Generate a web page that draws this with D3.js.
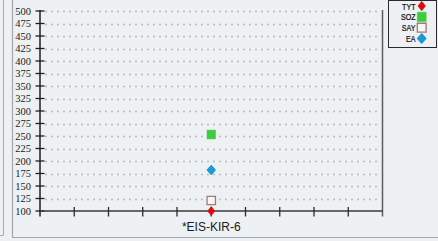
<!DOCTYPE html>
<html><head><meta charset="utf-8">
<script src="https://cdn.jsdelivr.net/npm/d3@7/dist/d3.min.js"></script>
<style>
html,body{margin:0;padding:0;background:#edf1f4;}
svg{display:block;}
</style></head>
<body>
<svg id="c" width="438" height="241"></svg>
<script>
const categories = ["*EIS-KIR-6"];
const seriesNames = ["TYT", "SOZ", "SAY", "EA"];
const TYT = [100];
const SOZ = [253];
const SAY = [121];
const EA = [182];
const yTicks = [100,125,150,175,200,225,250,275,300,325,350,375,400,425,450,475,500];
const xTickSlots = [0,1,2,3,4,5,6,7,8,9,10];

const seriesValues = {TYT, SOZ, SAY, EA};
const styles = {
  TYT: {shape: "diamond", fill: "#dd0a0a", stroke: "#dd0a0a", hw: 3.6, hh: 4.6},
  SOZ: {shape: "square", fill: "#3ccc3c", stroke: "#3ccc3c", hw: 4.2, hh: 4.4},
  SAY: {shape: "square", fill: "#f7f4f4", stroke: "#a07a7a", hw: 4.2, hh: 4.2},
  EA:  {shape: "diamond", fill: "#1c9ad6", stroke: "#1c9ad6", hw: 3.8, hh: 4.2, round: true}
};

const svg = d3.select("#c");
const bg = "#edf1f4";
svg.append("rect").attr("width",438).attr("height",241).attr("fill",bg);

// panels
svg.append("path").attr("d","M3.5,0 V235.5 H0").attr("fill","none").attr("stroke","#a9adb0").attr("stroke-width",1);
svg.append("path").attr("d","M12.5,0 V237.5 H438").attr("fill","none").attr("stroke","#a3a7aa").attr("stroke-width",1.2);

const x0 = 40, x1 = 382.5, yTop = 11, yBot = 211;
const y = d3.scaleLinear().domain([100,500]).range([yBot, yTop]);
const xs = d3.scaleLinear().domain([0,10]).range([x0, x1]);
const xc = d3.scalePoint().domain(categories).range([x0, x1]).padding(0.5);

// grid
svg.append("g").selectAll("line").data(yTicks.filter(d=>d>100)).join("line")
  .attr("x1", x0+5).attr("x2", x1-3)
  .attr("y1", d=>Math.round(y(d))+0.5).attr("y2", d=>Math.round(y(d))+0.5)
  .attr("stroke","#b9bcbf").attr("stroke-width",1.3).attr("stroke-dasharray","2,4");

// right border
svg.append("line").attr("x1",x1).attr("x2",x1).attr("y1",10).attr("y2",216.5)
  .attr("stroke","#5a5d60").attr("stroke-width",1.5);

// y axis
const yAxis = d3.axisLeft(y).tickValues(yTicks).tickSize(0).tickPadding(9);
const gy = svg.append("g").attr("transform",`translate(${x0},0)`).call(yAxis);
gy.attr("font-family", null).attr("font-size", null);
gy.select(".domain").remove();
gy.selectAll("text")
  .style("font-family","'Liberation Serif', 'DejaVu Serif', serif").style("font-size","10.5px")
  .attr("fill","#1a1a1a").attr("dy","0.33em");
svg.append("line").attr("x1",x0).attr("x2",x0).attr("y1",10).attr("y2",216.5).attr("stroke","#1e1e1e").attr("stroke-width",1.5);
svg.append("g").selectAll("line").data(yTicks).join("line")
  .attr("x1",x0-4.5).attr("x2",x0+4.5).attr("y1",d=>y(d)).attr("y2",d=>y(d))
  .attr("stroke","#1e1e1e").attr("stroke-width",1.3);

// x axis
svg.append("line").attr("x1",x0).attr("x2",x1).attr("y1",yBot).attr("y2",yBot).attr("stroke","#3a3a3a").attr("stroke-width",1.5);
svg.append("g").selectAll("line").data(xTickSlots.slice(1,10)).join("line")
  .attr("x1",d=>xs(d)).attr("x2",d=>xs(d)).attr("y1",yBot-4).attr("y2",yBot+5.5)
  .attr("stroke","#2a2a2a").attr("stroke-width",1.3);
svg.append("g").selectAll("text").data(categories).join("text")
  .attr("x",d=>xc(d)).attr("y",230.5).attr("text-anchor","middle")
  .attr("font-family","'Liberation Sans', Arial, sans-serif").attr("font-size","12px").attr("fill","#1a1a1a")
  .text(d=>d);

function shapePath(st, k){
  const hw = st.hw*k, hh = st.hh*k;
  if(st.shape==="diamond") return `M0,${-hh} L${hw},0 L0,${hh} L${-hw},0 Z`;
  return `M${-hw},${-hh} H${hw} V${hh} H${-hw} Z`;
}
function drawMarker(g, name, cx, cy, k){
  const st = styles[name];
  g.append("path").attr("d", shapePath(st, k||1)).attr("transform",`translate(${cx},${cy})`)
    .attr("fill",st.fill).attr("stroke",st.stroke)
    .attr("stroke-width", name==="SAY" ? 1.3 : (st.round?1.6:0.6))
    .attr("stroke-linejoin", st.round ? "round":"miter");
}

// markers
const mg = svg.append("g");
["SOZ","EA","SAY","TYT"].forEach(name=>{
  categories.forEach((c,i)=>{
    drawMarker(mg, name, xc(c), y(seriesValues[name][i]));
  });
});

// legend
const lg = svg.append("g");
lg.append("rect").attr("x",388.5).attr("y",0.5).attr("width",48).attr("height",47)
  .attr("fill",bg).attr("stroke","#2a2a2a").attr("stroke-width",1);
const ly = d3.scalePoint().domain(seriesNames).range([6,38.5]);
seriesNames.forEach(name=>{
  lg.append("text").attr("transform",`translate(415.5,${ly(name)+3.5}) scale(0.74,1)`)
    .attr("text-anchor","end")
    .attr("font-family","'Liberation Sans', Arial, sans-serif")
    .attr("font-size","9.6px").attr("fill","#111")
    .attr("stroke","#111").attr("stroke-width",0.25).text(name);
  drawMarker(lg, name, 421.7, ly(name), 1.05);
});
</script>
</body></html>
